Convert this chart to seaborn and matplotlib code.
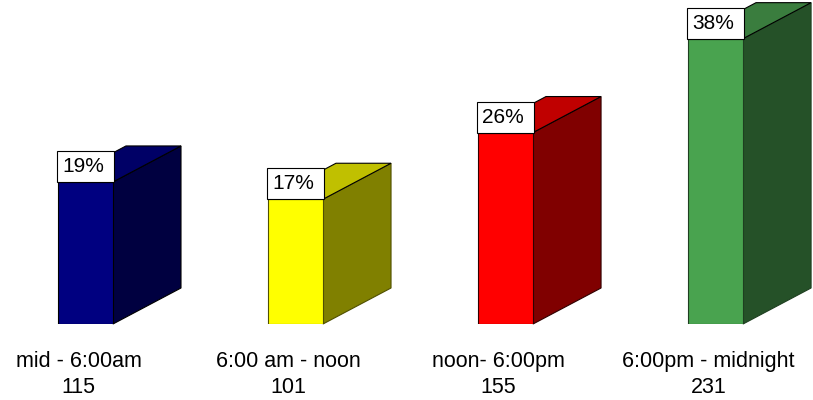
import matplotlib
matplotlib.use("Agg")
import matplotlib.pyplot as plt
import seaborn as sns
import pandas as pd
from matplotlib.patches import Polygon, Rectangle

# ---- data ----
categories = ["mid - 6:00am", "6:00 am - noon", "noon- 6:00pm", "6:00pm - midnight"]
counts = [115, 101, 155, 231]
front_colors = ["#000080", "#FFFF00", "#FF0000", "#49A34F"]
top_colors = ["#000066", "#C0C000", "#C00000", "#3A7D3E"]
side_colors = ["#000040", "#808000", "#800000", "#255128"]
edge_colors = ["#000000", "#505000", "#300000", "#1E3F20"]

total = sum(counts)
percents = [f"{round(c / total * 100)}%" for c in counts]

sns.set_style("white")
plt.rcParams["font.family"] = ["Liberation Sans", "DejaVu Sans"]

fig = plt.figure(figsize=(8.13, 4.0), dpi=100)
ax = fig.add_axes([0, 0.19, 1, 0.81])

df = pd.DataFrame({"cat": categories, "n": counts})
sns.barplot(data=df, x="cat", y="n", hue="cat", palette=front_colors,
            saturation=1, width=0.262, legend=False, ax=ax, linewidth=0.8, zorder=3)

ax.set_xlim(-0.407, 3.464)
ax.set_ylim(0, 262.3)
ax.axis("off")

# pixel -> data conversion (fixed layout)
px_x = 210.0           # pixels per category unit
px_y = 324.0 / 262.3   # pixels per count unit
depth_x = 68 / px_x
depth_y = 36 / px_y

for i, p in enumerate(ax.patches):
    p.set_edgecolor(edge_colors[i])
    x0, w, h = p.get_x(), p.get_width(), p.get_height()
    side = Polygon([(x0 + w, 0), (x0 + w + depth_x, depth_y),
                    (x0 + w + depth_x, h + depth_y), (x0 + w, h)],
                   closed=True, facecolor=side_colors[i], edgecolor=edge_colors[i],
                   linewidth=0.8, zorder=2, clip_on=False)
    top = Polygon([(x0, h), (x0 + depth_x, h + depth_y),
                   (x0 + w + depth_x, h + depth_y), (x0 + w, h)],
                  closed=True, facecolor=top_colors[i], edgecolor="#000000",
                  linewidth=0.8, zorder=2, clip_on=False)
    ax.add_patch(side)
    ax.add_patch(top)
    # percentage box
    bx = x0 - 1 / px_x
    bw = 57 / px_x
    bh = 31 / px_y
    ax.add_patch(Rectangle((bx, h), bw, bh, facecolor="white", edgecolor="#000000",
                           linewidth=0.8, zorder=5, clip_on=False))
    ax.text(bx + 5 / px_x, h + bh / 2, percents[i], fontsize=15,
            ha="left", va="center", zorder=6, color="#000000")

    cx = x0 + w / 2 - 7 / px_x
    ax.annotate(categories[i], xy=(cx, 0), xycoords=("data", "axes fraction"),
                xytext=(0, -43), textcoords="offset pixels",
                ha="center", va="baseline", fontsize=15.5, color="#000000",
                annotation_clip=False)
    ax.annotate(str(counts[i]), xy=(cx, 0), xycoords=("data", "axes fraction"),
                xytext=(0, -69), textcoords="offset pixels",
                ha="center", va="baseline", fontsize=15.5, color="#000000",
                annotation_clip=False)

fig.savefig("out.png", dpi=100)
